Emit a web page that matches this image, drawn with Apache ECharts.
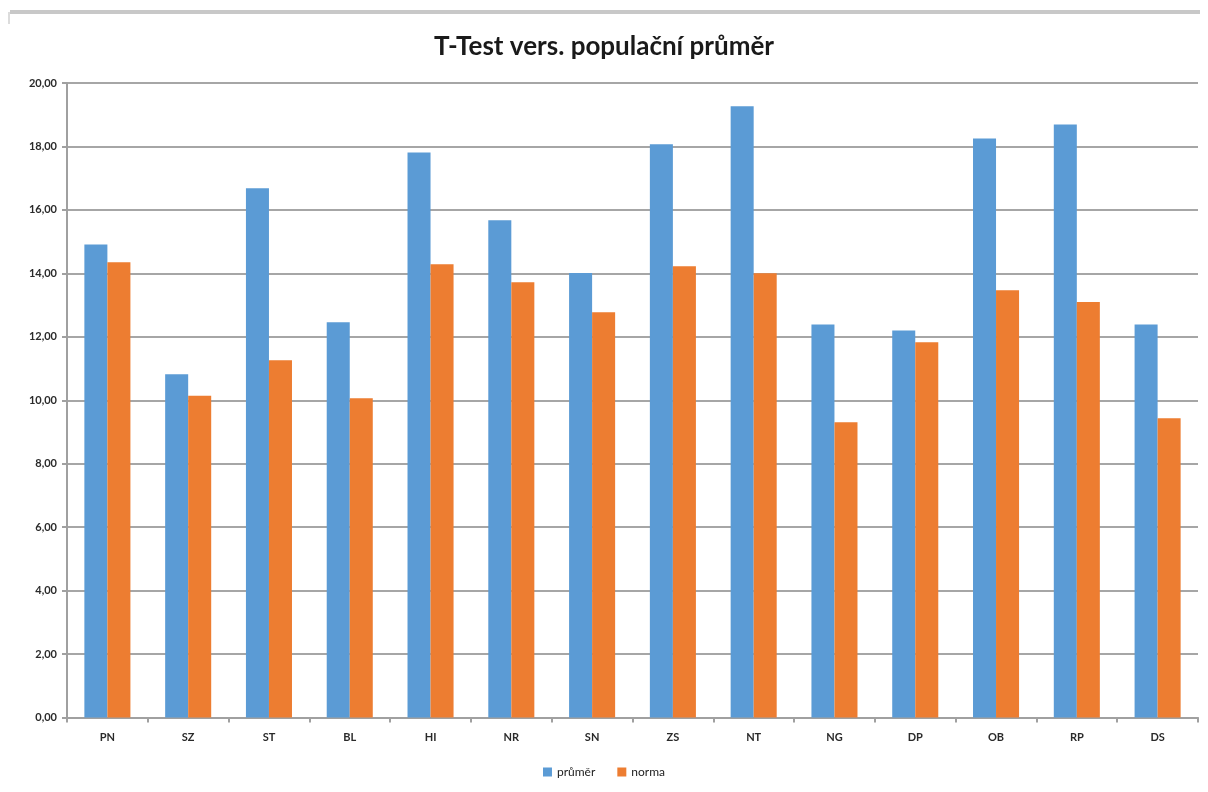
<!DOCTYPE html>
<html>
<head>
<meta charset="utf-8">
<script src="https://cdn.jsdelivr.net/npm/echarts@6/dist/echarts.min.js"></script>
<style>
html,body{margin:0;padding:0;background:#fff;}
#c{width:1208px;height:792px;}
</style>
</head>
<body>
<div id="c"></div>
<script>
const categories = ['PN','SZ','ST','BL','HI','NR','SN','ZS','NT','NG','DP','OB','RP','DS'];
const prumer = [14.91, 10.82, 16.68, 12.46, 17.81, 15.67, 14.01, 18.07, 19.27, 12.39, 12.20, 18.25, 18.69, 12.39];
const norma  = [14.35, 10.14, 11.26, 10.06, 14.29, 13.72, 12.77, 14.22, 14.00, 9.31, 11.83, 13.47, 13.10, 9.43];
const seriesNames = ['průměr', 'norma'];
const titleText = 'T-Test vers. populační průměr';

const chart = echarts.init(document.getElementById('c'));
chart.setOption({
  animation: false,
  backgroundColor: '#ffffff',
  title: {
    text: titleText,
    left: 'center',
    top: 29,
    textStyle: { fontFamily: 'Lato', fontWeight: 'bold', fontSize: 26, color: '#1a1a1a' }
  },
  legend: {
    data: seriesNames,
    bottom: 9,
    left: 'center',
    itemWidth: 9,
    itemHeight: 9,
    itemGap: 22,
    icon: 'rect',
    textStyle: { fontFamily: 'Lato', fontSize: 12, color: '#222' }
  },
  grid: { left: 67, right: 10, top: 83, bottom: 74.5, containLabel: false },
  xAxis: {
    type: 'category',
    data: categories,
    axisLine: { show: true, lineStyle: { color: '#a0a0a0', width: 2 } },
    axisTick: { show: true, alignWithLabel: false, length: 5, lineStyle: { color: '#a0a0a0', width: 2 } },
    axisLabel: { fontFamily: 'Lato', fontSize: 11, fontWeight: 'bold', color: '#2a2a2a', margin: 14 }
  },
  yAxis: {
    type: 'value',
    min: 0, max: 20, interval: 2,
    axisLine: { show: true, lineStyle: { color: '#a0a0a0', width: 2 } },
    axisTick: { show: true, length: 5, lineStyle: { color: '#a0a0a0', width: 2 } },
    splitLine: { show: true, lineStyle: { color: '#a6a6a6', width: 2 } },
    axisLabel: {
      fontFamily: 'Lato', fontSize: 11, fontWeight: 'bold', color: '#2a2a2a', margin: 10,
      formatter: v => v.toFixed(2).replace('.', ',')
    }
  },
  series: [
    { name: seriesNames[0], type: 'bar', data: prumer, barCategoryGap: '43%', barGap: '0%',
      itemStyle: { color: '#5b9bd5' } },
    { name: seriesNames[1], type: 'bar', data: norma, barCategoryGap: '43%', barGap: '0%',
      itemStyle: { color: '#ed7d31' } }
  ],
  graphic: [
    { type: 'line', shape: { x1: 10, y1: 12, x2: 1200, y2: 12 },
      style: { stroke: '#c8c8c8', lineWidth: 4 } },
    { type: 'line', shape: { x1: 9, y1: 12, x2: 9, y2: 24 },
      style: { stroke: '#dcdcdc', lineWidth: 2 } }
  ]
});
</script>
</body>
</html>
